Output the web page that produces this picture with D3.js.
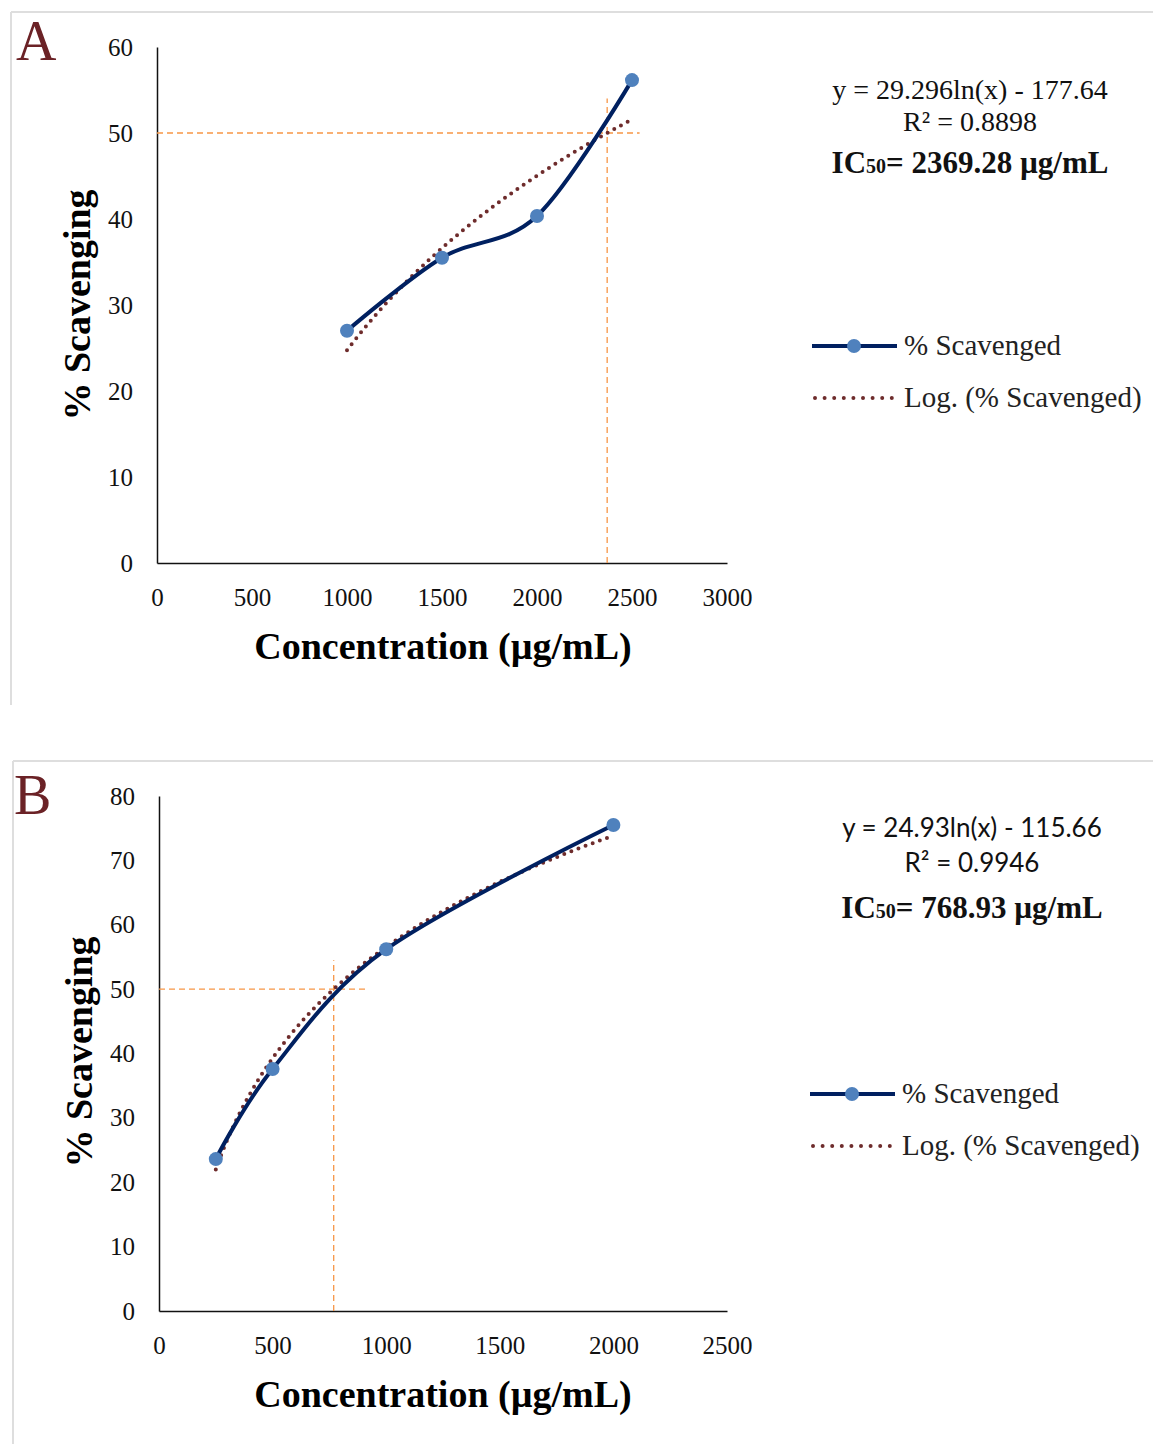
<!DOCTYPE html>
<html>
<head>
<meta charset="utf-8">
<script src="https://cdn.jsdelivr.net/npm/d3@7"></script>
<style>
  body { margin: 0; background: #fff; }
  svg text { font-family: "Liberation Serif", "Times New Roman", serif; }
</style>
</head>
<body>
<div id="content"></div>
<script>
// panel A data
let concA = [1000, 1500, 2000, 2500];
let scavA = [27.0, 35.5, 40.35, 56.15];
let xTicksA = [0, 500, 1000, 1500, 2000, 2500, 3000];
let yTicksA = [0, 10, 20, 30, 40, 50, 60];
let fitA = [29.296, -177.64]; // y = a ln(x) + b
let ic50A = 2369.28;
let eqA = ['y = 29.296ln(x) - 177.64', 'R² = 0.8898', '2369.28'];

// panel B data
let concB = [250, 500, 1000, 2000];
let scavB = [23.6, 37.6, 56.2, 75.5];
let xTicksB = [0, 500, 1000, 1500, 2000, 2500];
let yTicksB = [0, 10, 20, 30, 40, 50, 60, 70, 80];
let fitB = [24.93, -115.66];
let ic50B = 768.93;
let eqB = ['y = 24.93ln(x) - 115.66', 'R² = 0.9946', '768.93'];

let legendLabels = ['% Scavenged', 'Log. (% Scavenged)'];

let width = 1153, height = 1444;
let svg = d3.select('#content').append('svg').attr('width', width).attr('height', height);

function drawPanel(p) {
    let g = svg.append('g').attr('transform', `translate(0,${p.top})`);
    // panel frame (top + left edge only, like the cropped screenshot)
    g.append('line').attr('x1', p.frameX).attr('x2', width).attr('y1', 0).attr('y2', 0)
        .attr('stroke', '#dedede').attr('stroke-width', 2);
    g.append('line').attr('x1', p.frameX).attr('x2', p.frameX).attr('y1', 0).attr('y2', p.frameH)
        .attr('stroke', '#dedede').attr('stroke-width', 2);

    g.append('text').text(p.letter).attr('x', p.letterX).attr('y', p.letterY)
        .style('font-size', '56px').attr('fill', '#6b2226');

    let x = d3.scaleLinear().domain([0, p.xMax]).range([p.left, 727]);
    let y = d3.scaleLinear().domain([0, p.yMax]).range([p.y0, p.yTop]);

    let xAxis = d3.axisBottom(x).tickValues(p.xTicks).tickFormat(d3.format('d')).tickSize(0).tickPadding(25);
    let yAxis = d3.axisLeft(y).tickValues(p.yTicks).tickFormat(d3.format('d')).tickSize(0).tickPadding(24);
    let gx = g.append('g').attr('transform', `translate(0,${p.y0})`).call(xAxis);
    let gy = g.append('g').attr('transform', `translate(${p.left},0)`).call(yAxis);
    [gx, gy].forEach(a => {
        a.select('.domain').attr('stroke', '#111').attr('stroke-width', 1.5);
        a.selectAll('text').style('font-size', '25px').style('font-family', '"Liberation Serif", serif').attr('fill', '#111');
    });

    // IC50 guide lines
    g.append('line').attr('x1', x(0)).attr('x2', x(p.hEnd)).attr('y1', y(50)).attr('y2', y(50))
        .attr('stroke', '#f79646').attr('stroke-width', 1.3).attr('stroke-dasharray', '6,4');
    g.append('line').attr('x1', x(p.ic50)).attr('x2', x(p.ic50)).attr('y1', y(0)).attr('y2', y(p.vEnd))
        .attr('stroke', '#f79646').attr('stroke-width', 1.3).attr('stroke-dasharray', '6,4');

    // log trend line from the fitted coefficients
    let xs = d3.range(120).map(i => p.conc[0] + (p.conc[p.conc.length - 1] - p.conc[0]) * i / 119);
    let trend = d3.line().x(d => x(d)).y(d => y(p.fit[0] * Math.log(d) + p.fit[1]));
    g.append('path').attr('d', trend(xs)).attr('fill', 'none')
        .attr('stroke', '#6e2c2c').attr('stroke-width', 4)
        .attr('stroke-linecap', 'round').attr('stroke-dasharray', '0,7.6');

    let pts = p.conc.map((c, i) => [c, p.scav[i]]);
    let line = d3.line().x(d => x(d[0])).y(d => y(d[1])).curve(d3.curveCardinal.tension(0));
    g.append('path').attr('d', line(pts)).attr('fill', 'none')
        .attr('stroke', '#002060').attr('stroke-width', 4);
    g.selectAll('circle.pt').data(pts).enter().append('circle').attr('class', 'pt')
        .attr('cx', d => x(d[0])).attr('cy', d => y(d[1])).attr('r', 7).attr('fill', '#4f81bd');

    // axis titles
    g.append('text').text('Concentration (µg/mL)').attr('x', 443).attr('y', p.y0 + 96)
        .attr('text-anchor', 'middle').style('font-size', '38px').style('font-weight', 'bold');
    g.append('text').text('% Scavenging')
        .attr('transform', `translate(${p.yTitleX},${p.yTitleY}) rotate(-90)`)
        .attr('text-anchor', 'middle').style('font-size', '38px').style('font-weight', 'bold');

    // equation block
    let eq = g.append('g').attr('text-anchor', 'middle');
    eq.append('text').text(p.eq[0]).attr('x', p.eqX).attr('y', p.eqY)
        .style('font-size', p.eqSize).style('font-family', p.eqFont).attr('fill', '#111');
    eq.append('text').text(p.eq[1]).attr('x', p.eqX).attr('y', p.eqY + p.eqGap)
        .style('font-size', p.eqSize).style('font-family', p.eqFont).attr('fill', '#111');
    let ic = eq.append('text').attr('x', p.eqX).attr('y', p.icY)
        .style('font-size', '31px').style('font-weight', 'bold').attr('fill', '#111');
    ic.append('tspan').text('IC');
    ic.append('tspan').text('50').style('font-size', '20px');
    ic.append('tspan').text('= ' + p.eq[2] + ' µg/mL');

    // legend
    let lg = g.append('g').attr('transform', `translate(${p.legX},${p.legY})`);
    lg.append('line').attr('x1', 0).attr('x2', 85).attr('y1', 0).attr('y2', 0)
        .attr('stroke', '#002060').attr('stroke-width', 4);
    lg.append('circle').attr('cx', 42).attr('cy', 0).attr('r', 7).attr('fill', '#4f81bd');
    lg.append('text').text(legendLabels[0]).attr('x', 92).attr('y', 9).style('font-size', '29px').attr('fill', '#222');
    lg.append('line').attr('x1', 3).attr('x2', 80).attr('y1', 52).attr('y2', 52)
        .attr('stroke', '#6e2c2c').attr('stroke-width', 4)
        .attr('stroke-linecap', 'round').attr('stroke-dasharray', '0,9.6');
    lg.append('text').text(legendLabels[1]).attr('x', 92).attr('y', 61).style('font-size', '29px').attr('fill', '#222');
}

drawPanel({
    top: 12, frameX: 11, frameH: 693, letter: 'A', letterX: 16, letterY: 48,
    conc: concA, scav: scavA, xTicks: xTicksA, yTicks: yTicksA, xMax: 3000, yMax: 60,
    left: 157, y0: 551, yTop: 35, fit: fitA, ic50: ic50A, hEnd: 2540, vEnd: 54,
    yTitleX: 90, yTitleY: 293,
    eq: eqA, eqX: 970, eqY: 87, eqGap: 32, eqSize: '28px', eqFont: '"Liberation Serif", serif', icY: 161,
    legX: 812, legY: 334
});

drawPanel({
    top: 761, frameX: 13, frameH: 683, letter: 'B', letterX: 14, letterY: 53,
    conc: concB, scav: scavB, xTicks: xTicksB, yTicks: yTicksB, xMax: 2500, yMax: 80,
    left: 159, y0: 550, yTop: 35, fit: fitB, ic50: ic50B, hEnd: 915, vEnd: 54.5,
    yTitleX: 92, yTitleY: 291,
    eq: eqB, eqX: 972, eqY: 76, eqGap: 35, eqSize: '26px', eqFont: 'Lato, "Open Sans", sans-serif', icY: 157,
    legX: 810, legY: 333
});
</script>
</body>
</html>
